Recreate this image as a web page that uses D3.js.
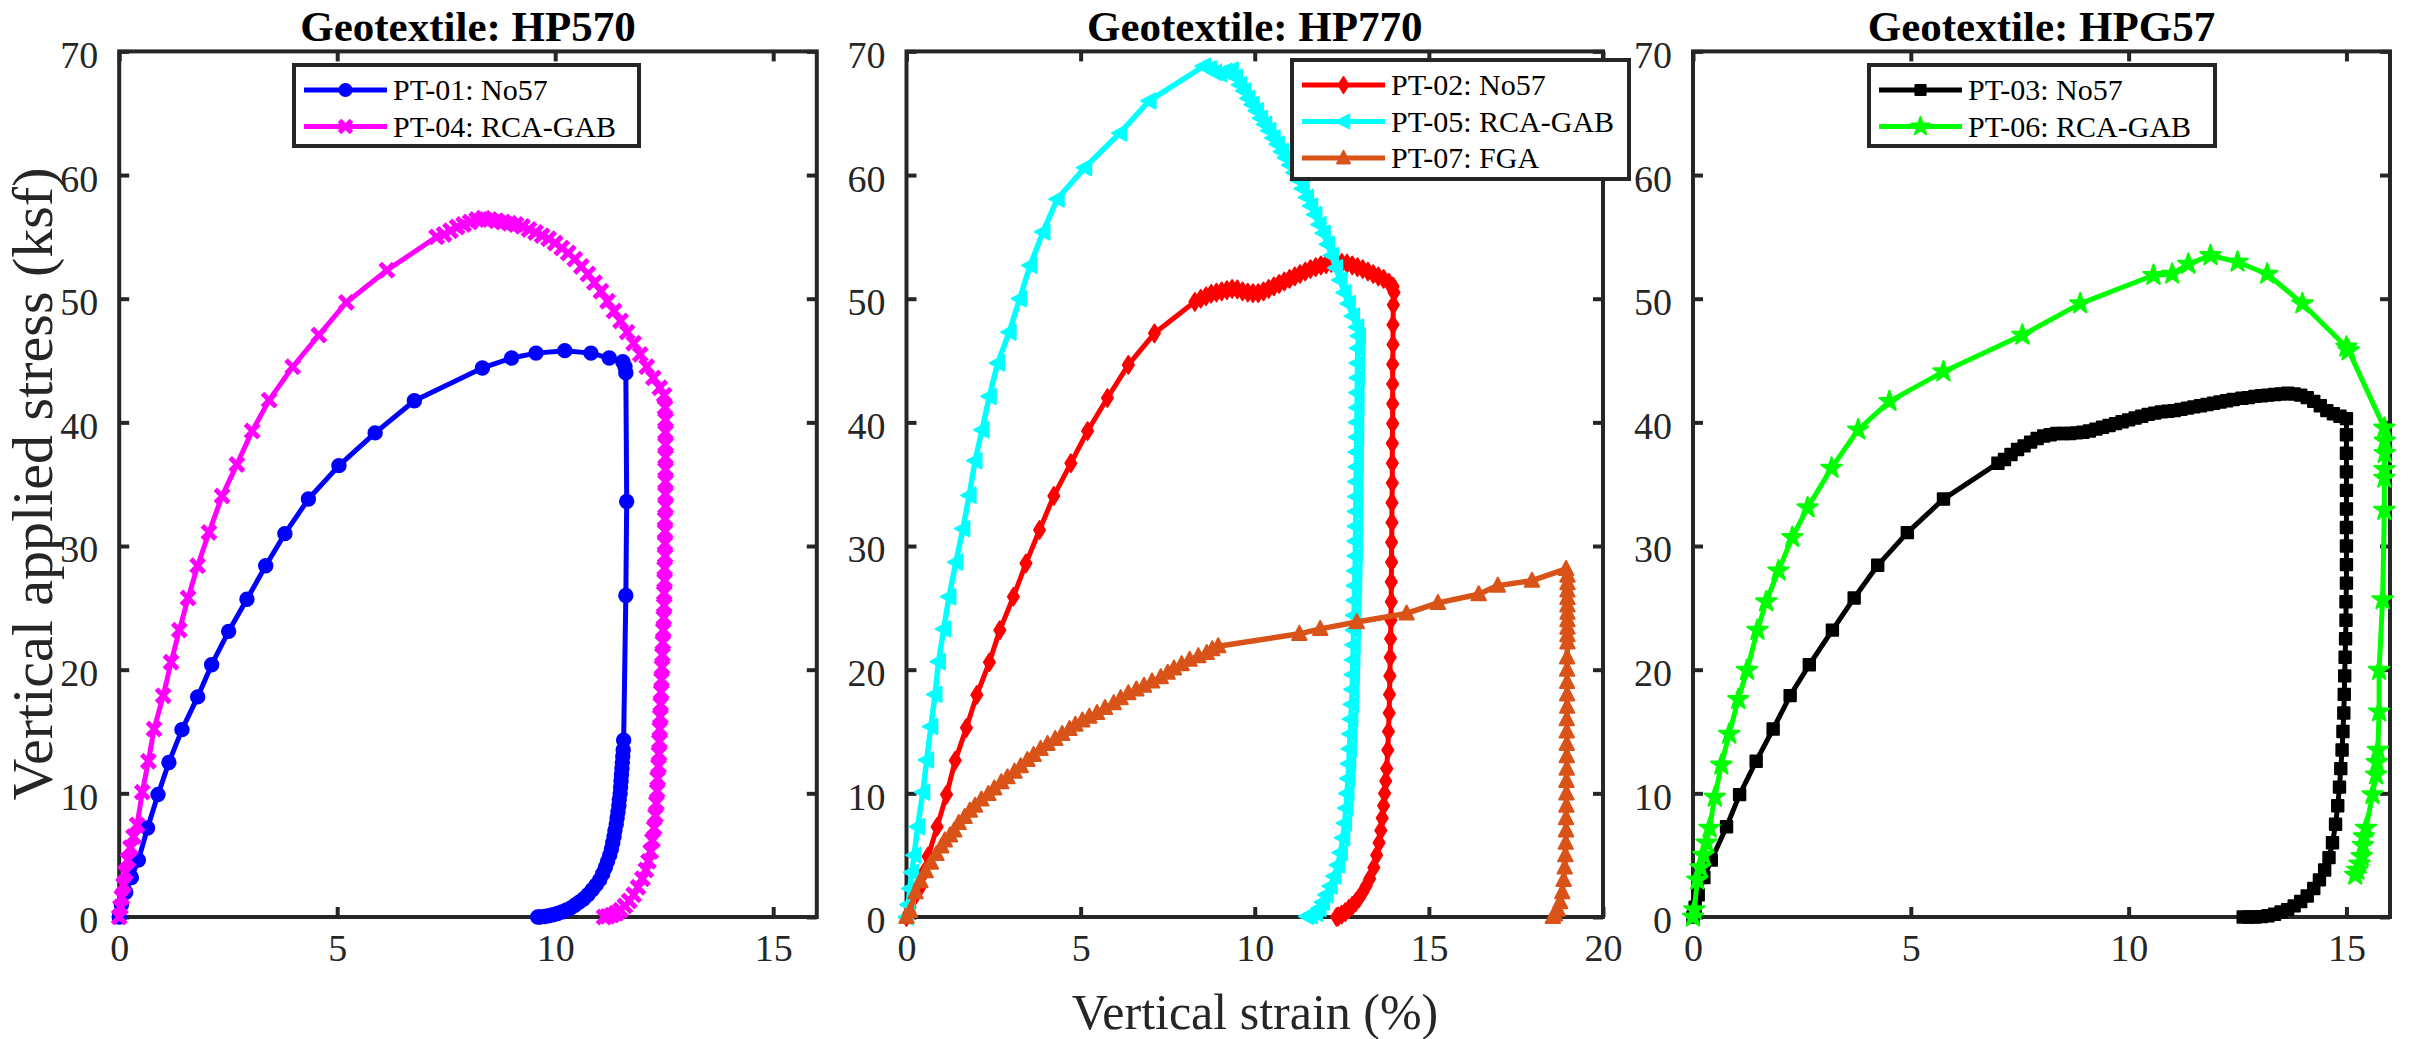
<!DOCTYPE html>
<html><head><meta charset="utf-8">
<script src="https://cdn.jsdelivr.net/npm/d3@7"></script>
<style>html,body{margin:0;padding:0;background:#fff;}svg{display:block;}svg text{font-family:"Liberation Serif","Times New Roman",Times,serif;}</style>
</head><body>
<svg id="chart" width="2410" height="1039"></svg>
<script>
// ---------------- DATA ----------------
const panelTitles = ["Geotextile: HP570", "Geotextile: HP770", "Geotextile: HPG57"];
const xTicks16 = [0, 5, 10, 15];
const xTicks20 = [0, 5, 10, 15, 20];
const yTicks = [0, 10, 20, 30, 40, 50, 60, 70];
const xLabelText = "Vertical strain (%)";
const yLabelText = "Vertical applied stress (ksf)";
const seriesLabels = ["PT-01: No57", "PT-04: RCA-GAB", "PT-02: No57", "PT-05: RCA-GAB", "PT-07: FGA", "PT-03: No57", "PT-06: RCA-GAB"];

// [vertical strain %, vertical applied stress ksf]
const pt01 = [[0,0],[0.05,1.0],[0.15,2.0],[0.28,3.2],[0.44,4.6],[0.65,7.2],[0.89,9.9],[1.14,12.5],[1.44,15.15],[1.80,17.8],[2.12,20.4],[2.51,23.1],[2.93,25.7],[3.36,28.4],[3.80,31.0],[4.34,33.8],[5.04,36.5],[5.87,39.15],[6.77,41.75],[8.33,44.4],[9.0,45.2],[9.56,45.6],[10.22,45.8],[10.82,45.6],[11.24,45.2],[11.55,44.9],[11.6,44.5],[11.62,44.0],[11.64,33.6],[11.62,26.0],[11.57,14.3],[11.56,13.5],[11.55,13],[11.54,12.5],[11.53,12],[11.52,11.5],[11.51,11],[11.5,10.5],[11.49,10],[11.47,9.5],[11.46,9],[11.44,8.5],[11.42,8],[11.4,7.5],[11.37,7],[11.35,6.5],[11.32,6],[11.29,5.5],[11.25,5],[11.2,4.5],[11.15,4],[11.09,3.5],[11.02,3],[10.94,2.6],[10.85,2.2],[10.75,1.8],[10.65,1.45],[10.55,1.2],[10.45,0.95],[10.35,0.72],[10.25,0.55],[10.15,0.4],[10.05,0.28],[9.95,0.18],[9.85,0.1],[9.75,0.04],[9.65,0],[9.6,0]];
const pt04 = [[0,0],[0.03,0.8],[0.06,1.6],[0.1,2.6],[0.14,3.6],[0.2,4.6],[0.26,5.6],[0.33,6.5],[0.41,7.45],[0.53,10.1],[0.67,12.6],[0.80,15.2],[1.01,17.9],[1.19,20.6],[1.38,23.2],[1.58,25.8],[1.80,28.4],[2.06,31.1],[2.36,34.05],[2.70,36.6],[3.05,39.3],[3.44,41.8],[3.98,44.5],[4.58,47.06],[5.21,49.7],[6.14,52.3],[7.28,55.0],[7.45,55.2],[7.6,55.5],[7.75,55.8],[7.9,56.0],[8.05,56.2],[8.2,56.4],[8.35,56.5],[8.5,56.4],[8.65,56.3],[8.8,56.2],[8.95,56.1],[9.1,56.0],[9.25,55.85],[9.4,55.6],[9.55,55.35],[9.7,55.1],[9.85,54.85],[10.0,54.5],[10.15,54.1],[10.3,53.7],[10.45,53.2],[10.6,52.6],[10.75,52.0],[10.9,51.3],[11.05,50.6],[11.2,49.8],[11.35,49.0],[11.5,48.2],[11.65,47.3],[11.8,46.4],[11.95,45.5],[12.1,44.5],[12.25,43.6],[12.4,42.8],[12.5,42.2],[12.52,41.2],[12.53,40.2],[12.53,39.2],[12.53,38.2],[12.53,37.2],[12.53,36.2],[12.53,35.2],[12.53,34.2],[12.53,33.2],[12.52,32.2],[12.52,31.2],[12.52,30.2],[12.52,29.2],[12.51,28.2],[12.51,27.2],[12.5,26.2],[12.5,25.2],[12.49,24.2],[12.48,23.2],[12.47,22.2],[12.46,21.2],[12.45,20.2],[12.44,19.2],[12.43,18.2],[12.42,17.2],[12.41,16.2],[12.4,15.2],[12.39,14.2],[12.38,13.2],[12.37,12.2],[12.35,11.2],[12.34,10.2],[12.32,9.2],[12.3,8.2],[12.27,7.2],[12.23,6.2],[12.19,5.3],[12.14,4.5],[12.08,3.8],[12.0,3.1],[11.9,2.4],[11.8,1.8],[11.7,1.3],[11.6,0.9],[11.5,0.55],[11.4,0.3],[11.3,0.15],[11.2,0.05],[11.12,0]];

const pt02 = [[0,0],[0.1,0.8],[0.2,1.5],[0.37,2.3],[0.5,3.6],[0.62,4.9],[0.88,7.3],[1.15,9.9],[1.40,12.65],[1.72,15.3],[2.02,17.96],[2.38,20.6],[2.68,23.2],[3.07,25.9],[3.43,28.6],[3.82,31.3],[4.23,34.05],[4.72,36.7],[5.2,39.3],[5.77,41.97],[6.37,44.65],[7.12,47.2],[8.28,49.75],[8.45,50.0],[8.6,50.2],[8.75,50.4],[8.9,50.5],[9.05,50.6],[9.2,50.7],[9.35,50.8],[9.5,50.75],[9.65,50.6],[9.8,50.5],[9.95,50.45],[10.1,50.45],[10.25,50.6],[10.4,50.8],[10.55,51.0],[10.7,51.2],[10.85,51.4],[11.0,51.6],[11.15,51.8],[11.3,52.0],[11.45,52.2],[11.6,52.4],[11.75,52.55],[11.9,52.7],[12.05,52.8],[12.2,52.9],[12.35,52.95],[12.5,52.9],[12.65,52.85],[12.8,52.7],[12.95,52.55],[13.1,52.4],[13.25,52.2],[13.4,52.0],[13.55,51.8],[13.7,51.6],[13.85,51.3],[13.97,51.0],[14.0,50.5],[13.98,49.5],[13.97,47.9],[13.97,46.3],[13.96,44.7],[13.96,43.1],[13.96,41.5],[13.96,39.9],[13.95,38.3],[13.95,36.7],[13.95,35.1],[13.94,33.5],[13.94,31.9],[13.93,30.3],[13.93,28.7],[13.92,27.1],[13.92,25.5],[13.91,24.0],[13.9,22.5],[13.89,21.0],[13.88,19.5],[13.87,18.0],[13.86,16.5],[13.84,15.0],[13.82,13.5],[13.79,12.0],[13.76,11.0],[13.73,10.0],[13.7,9.0],[13.66,8.0],[13.62,7.0],[13.57,6.0],[13.5,5.0],[13.42,4.0],[13.3,3.1],[13.2,2.5],[13.1,2.0],[13.0,1.55],[12.9,1.2],[12.8,0.9],[12.7,0.65],[12.6,0.4],[12.5,0.2],[12.4,0.05],[12.35,0]];
const pt05 = [[0,0],[0.05,1],[0.1,2.3],[0.15,3.6],[0.22,5],[0.32,7.3],[0.47,10.1],[0.58,12.7],[0.70,15.4],[0.82,18.0],[0.92,20.65],[1.07,23.3],[1.22,25.9],[1.42,28.7],[1.62,31.4],[1.8,34.1],[1.97,36.9],[2.17,39.4],[2.38,42.1],[2.62,44.8],[2.95,47.3],[3.25,50.0],[3.55,52.7],[3.92,55.4],[4.33,58.06],[5.12,60.6],[6.13,63.4],[6.97,66.0],[8.53,68.8],[8.7,68.6],[8.85,68.3],[9.0,68.2],[9.15,68.4],[9.33,68.5],[9.45,67.9],[9.57,67.3],[9.69,66.8],[9.81,66.2],[9.93,65.7],[10.05,65.2],[10.17,64.6],[10.29,64.1],[10.41,63.6],[10.53,63.0],[10.65,62.5],[10.77,61.9],[10.89,61.4],[11.01,60.8],[11.13,60.2],[11.25,59.6],[11.37,58.9],[11.49,58.2],[11.61,57.5],[11.73,56.8],[11.85,56.0],[11.97,55.3],[12.09,54.4],[12.21,53.5],[12.33,52.5],[12.45,51.5],[12.57,50.5],[12.69,49.6],[12.81,48.6],[12.93,47.7],[12.98,47.0],[12.96,46],[12.95,44.8],[12.95,43.6],[12.94,42.4],[12.94,41.2],[12.93,40],[12.93,38.8],[12.92,37.6],[12.92,36.4],[12.91,35.2],[12.91,34],[12.9,32.8],[12.9,31.6],[12.89,30.4],[12.89,29.2],[12.88,28],[12.87,26.8],[12.86,25.6],[12.85,24.4],[12.84,23.2],[12.83,22],[12.82,20.8],[12.81,19.6],[12.8,18.4],[12.78,17.2],[12.76,16],[12.74,14.8],[12.72,13.6],[12.7,12.4],[12.68,11.2],[12.65,10],[12.62,8.8],[12.58,7.6],[12.53,6.4],[12.46,5.2],[12.38,4.2],[12.28,3.3],[12.17,2.5],[12.05,1.8],[11.95,1.2],[11.85,0.7],[11.75,0.3],[11.6,0.1],[11.5,0.05]];
const pt07 = [[0,0],[0.1,0.5],[0.26,2.0],[0.4,2.9],[0.55,3.7],[0.7,4.4],[0.86,5.1],[1.0,5.7],[1.1,6.2],[1.25,6.6],[1.37,7.0],[1.5,7.6],[1.67,8.1],[1.82,8.6],[1.97,9.0],[2.15,9.5],[2.35,9.95],[2.52,10.4],[2.72,10.9],[2.9,11.3],[3.1,11.76],[3.28,12.2],[3.47,12.7],[3.65,13.1],[3.85,13.6],[4.05,14.0],[4.27,14.4],[4.47,14.8],[4.68,15.2],[4.85,15.55],[5.05,15.9],[5.25,16.2],[5.47,16.5],[5.7,16.9],[5.95,17.3],[6.15,17.7],[6.37,18.1],[6.6,18.4],[6.82,18.7],[7.05,19.05],[7.30,19.4],[7.5,19.75],[7.68,20.1],[7.9,20.45],[8.13,20.8],[8.38,21.1],[8.62,21.35],[8.78,21.65],[8.95,21.9],[11.28,22.9],[11.88,23.3],[12.93,23.85],[14.36,24.55],[15.26,25.4],[16.43,26.1],[16.98,26.8],[17.96,27.2],[18.94,28.15],[18.98,27.6],[18.98,27.0],[18.98,26.4],[18.98,25.8],[18.98,25.2],[18.98,24.6],[18.98,24.0],[18.98,23.4],[18.98,22.8],[18.98,22.2],[18.97,21.0],[18.97,20.0],[18.97,19.0],[18.97,18.0],[18.97,17.0],[18.96,16.0],[18.96,15.0],[18.96,14.0],[18.96,13.0],[18.96,12.0],[18.95,11.0],[18.95,10.0],[18.95,9.0],[18.94,8.0],[18.94,7.0],[18.93,6.0],[18.92,5.0],[18.9,4.0],[18.87,3.0],[18.83,2.0],[18.77,1.2],[18.7,0.6],[18.62,0.2],[18.56,0]];

const pt03 = [[0,0],[0.05,0.8],[0.12,1.8],[0.25,3.2],[0.42,4.6],[0.77,7.3],[1.07,9.9],[1.45,12.6],[1.84,15.2],[2.23,17.9],[2.67,20.4],[3.2,23.2],[3.70,25.8],[4.24,28.44],[4.92,31.08],[5.75,33.8],[7.0,36.7],[7.15,37.0],[7.3,37.4],[7.45,37.8],[7.6,38.1],[7.75,38.4],[7.9,38.7],[8.05,38.9],[8.2,39.0],[8.35,39.1],[8.5,39.1],[8.65,39.1],[8.8,39.15],[8.95,39.2],[9.1,39.3],[9.25,39.45],[9.4,39.6],[9.55,39.75],[9.7,39.9],[9.85,40.05],[10.0,40.2],[10.15,40.35],[10.3,40.5],[10.45,40.65],[10.6,40.75],[10.75,40.85],[10.9,40.9],[11.05,40.95],[11.2,41.05],[11.35,41.15],[11.5,41.25],[11.65,41.35],[11.8,41.45],[11.95,41.55],[12.1,41.65],[12.25,41.75],[12.4,41.85],[12.6,41.95],[12.75,42.0],[12.9,42.1],[13.05,42.15],[13.2,42.2],[13.35,42.25],[13.5,42.3],[13.65,42.35],[13.8,42.3],[13.95,42.2],[14.1,42.0],[14.25,41.7],[14.4,41.35],[14.55,40.95],[14.7,40.7],[14.85,40.5],[15.0,40.3],[15.0,39],[15.0,37.5],[15.0,36],[15.0,34.5],[15.0,33],[15.0,31.5],[15.0,30],[15.0,28.5],[15.0,27],[14.99,25.5],[14.99,24],[14.98,22.5],[14.97,21],[14.96,19.5],[14.95,18],[14.94,16.5],[14.92,15],[14.9,13.5],[14.87,12],[14.84,10.5],[14.8,9.0],[14.75,7.5],[14.68,6.0],[14.6,4.8],[14.5,3.8],[14.38,3.0],[14.25,2.3],[14.1,1.7],[13.95,1.25],[13.8,0.9],[13.65,0.6],[13.5,0.4],[13.35,0.22],[13.2,0.1],[13.05,0.03],[12.9,0],[12.75,0],[12.63,0]];
const pt06 = [[0,0],[0.03,0.6],[0.1,3.0],[0.17,4.0],[0.24,5.0],[0.31,6.0],[0.38,7.2],[0.50,9.7],[0.65,12.3],[0.83,14.8],[1.04,17.6],[1.24,19.96],[1.48,23.2],[1.68,25.5],[1.96,28.0],[2.28,30.7],[2.63,33.1],[3.18,36.3],[3.79,39.4],[4.51,41.7],[5.75,44.1],[7.56,47.06],[8.89,49.6],[10.57,51.9],[11.0,52.0],[11.37,52.8],[11.88,53.5],[12.5,52.97],[13.18,52.0],[13.99,49.6],[15.0,46.1],[15.05,45.8],[15.87,39.55],[15.88,38.5],[15.88,37.5],[15.87,36.2],[15.87,35.5],[15.87,32.9],[15.83,25.66],[15.75,19.96],[15.75,16.6],[15.72,13.5],[15.7,12.5],[15.68,11.5],[15.6,9.9],[15.45,7.2],[15.4,6.5],[15.38,5.8],[15.35,4.9],[15.3,4.3],[15.25,3.8],[15.2,3.4]];

// ---------------- STYLE / LAYOUT ----------------
const AX = "#262626";
const plotTop = 51.4, plotBottom = 917;
const shapes = {
  circle: {draw(c, s){const r = Math.sqrt(s)/2; c.moveTo(r,0); c.arc(0,0,r,0,2*Math.PI);}},
  square: {draw(c, s){const r = Math.sqrt(s)/2; c.rect(-r,-r,2*r,2*r);}},
  diamond: {draw(c, s){const r = Math.sqrt(s)/2; c.moveTo(0,-r*1.35); c.lineTo(r*0.85,0); c.lineTo(0,r*1.35); c.lineTo(-r*0.85,0); c.closePath();}},
  triLeft: {draw(c, s){const r = Math.sqrt(s)/2; c.moveTo(-r,0); c.lineTo(r*0.8,-r*0.95); c.lineTo(r*0.8,r*0.95); c.closePath();}},
  triUp: {draw(c, s){const r = Math.sqrt(s)/2; c.moveTo(0,-r*1.05); c.lineTo(r*0.95,r*0.8); c.lineTo(-r*0.95,r*0.8); c.closePath();}},
  star: d3.symbolStar,
  cross: {draw(c, s){const r = Math.sqrt(s)/2; c.moveTo(-r,-r); c.lineTo(r,r); c.moveTo(r,-r); c.lineTo(-r,r);}}
};
const styles = [
  {data: pt01, label: seriesLabels[0], color: "#0000ff", shape: "circle", size: 180, lw: 5},
  {data: pt04, label: seriesLabels[1], color: "#ff00ff", shape: "cross", size: 180, lw: 5},
  {data: pt02, label: seriesLabels[2], color: "#ff0000", shape: "diamond", size: 170, lw: 5},
  {data: pt05, label: seriesLabels[3], color: "#00ffff", shape: "triLeft", size: 260, lw: 5.5},
  {data: pt07, label: seriesLabels[4], color: "#d95319", shape: "triUp", size: 230, lw: 5.5},
  {data: pt03, label: seriesLabels[5], color: "#000000", shape: "square", size: 130, lw: 5},
  {data: pt06, label: seriesLabels[6], color: "#00ff00", shape: "star", size: 130, lw: 5}
];
const panels = [
  {left: 119.2, right: 816.8, xMax: 16, ticks: xTicks16, title: panelTitles[0], series: [styles[0], styles[1]], legend: {x: 294, y: 65, w: 345, h: 81}},
  {left: 906.5, right: 1603, xMax: 20, ticks: xTicks20, title: panelTitles[1], series: [styles[2], styles[3], styles[4]], legend: {x: 1292, y: 60, w: 337, h: 119}},
  {left: 1693, right: 2390, xMax: 16, ticks: xTicks16, title: panelTitles[2], series: [styles[5], styles[6]], legend: {x: 1869, y: 65, w: 346, h: 81}}
];

const svg = d3.select("#chart");
svg.append("rect").attr("width", 2410).attr("height", 1039).attr("fill", "#fff");

function markerPath(st, scale) {
  return d3.symbol().type(shapes[st.shape]).size(st.size * (scale || 1))();
}
function drawMarker(g, st, x, y, scale) {
  const p = g.append("path").attr("d", markerPath(st, scale)).attr("transform", `translate(${x},${y})`);
  if (st.shape === "cross") p.attr("fill", "none").attr("stroke", st.color).attr("stroke-width", 5);
  else p.attr("fill", st.color).attr("stroke", st.color).attr("stroke-width", 2).attr("stroke-linejoin", "round");
}

panels.forEach(pn => {
  const x = d3.scaleLinear().domain([0, pn.xMax]).range([pn.left, pn.right]);
  const y = d3.scaleLinear().domain([0, 70]).range([plotBottom, plotTop]);
  const g = svg.append("g");

  const axB = d3.axisBottom(x).tickValues(pn.ticks).tickSize(-10).tickPadding(17).tickFormat(d3.format("d"));
  const axT = d3.axisTop(x).tickValues(pn.ticks).tickSize(-10).tickFormat("");
  const axL = d3.axisLeft(y).tickValues(yTicks).tickSize(-10).tickPadding(21).tickFormat(d3.format("d"));
  const axR = d3.axisRight(y).tickValues(yTicks).tickSize(-10).tickFormat("");
  const styleAxis = sel => {
    sel.attr("font-family", null);
    sel.select(".domain").remove();
    sel.selectAll(".tick line").attr("stroke", AX).attr("stroke-width", 4);
    sel.selectAll(".tick text").attr("fill", AX).attr("font-size", 38);
  };
  g.append("g").attr("transform", `translate(0,${plotBottom})`).call(axB).call(styleAxis)
    .selectAll(".tick text").attr("dy", "0.71em");
  g.append("g").attr("transform", `translate(0,${plotTop})`).call(axT).call(styleAxis);
  g.append("g").attr("transform", `translate(${pn.left},0)`).call(axL).call(styleAxis)
    .selectAll(".tick text").attr("dy", "0.42em");
  g.append("g").attr("transform", `translate(${pn.right},0)`).call(axR).call(styleAxis);
  g.append("rect").attr("x", pn.left).attr("y", plotTop).attr("width", pn.right - pn.left)
    .attr("height", plotBottom - plotTop).attr("fill", "none").attr("stroke", AX).attr("stroke-width", 4);

  const line = d3.line().x(d => x(d[0])).y(d => y(d[1]));
  pn.series.forEach(st => {
    const sg = g.append("g");
    sg.append("path").attr("d", line(st.data)).attr("fill", "none").attr("stroke", st.color)
      .attr("stroke-width", st.lw).attr("stroke-linejoin", "round");
    st.data.forEach(d => drawMarker(sg, st, x(d[0]), y(d[1])));
  });

  g.append("text").attr("x", (pn.left + pn.right) / 2).attr("y", 41).attr("text-anchor", "middle")
    .attr("font-weight", "bold").attr("font-size", 43).attr("fill", "#000").text(pn.title);

  const L = pn.legend;
  const lg = g.append("g");
  lg.append("rect").attr("x", L.x).attr("y", L.y).attr("width", L.w).attr("height", L.h)
    .attr("fill", "#fff").attr("stroke", AX).attr("stroke-width", 4);
  pn.series.forEach((st, i) => {
    const ry = L.y + 25 + i * 36.5;
    lg.append("line").attr("x1", L.x + 10).attr("x2", L.x + 93).attr("y1", ry).attr("y2", ry)
      .attr("stroke", st.color).attr("stroke-width", 5);
    drawMarker(lg, st, L.x + 51.5, ry, 0.8);
    lg.append("text").attr("x", L.x + 99).attr("y", ry + 10).attr("font-size", 30).attr("fill", "#000").text(st.label);
  });
});

svg.append("text").attr("x", 1255).attr("y", 1029).attr("text-anchor", "middle")
  .attr("font-size", 50).attr("fill", AX).text(xLabelText);
svg.append("text").attr("transform", "translate(52,484) rotate(-90)").attr("text-anchor", "middle")
  .attr("font-size", 58).attr("fill", AX).text(yLabelText);
</script>
</body></html>
